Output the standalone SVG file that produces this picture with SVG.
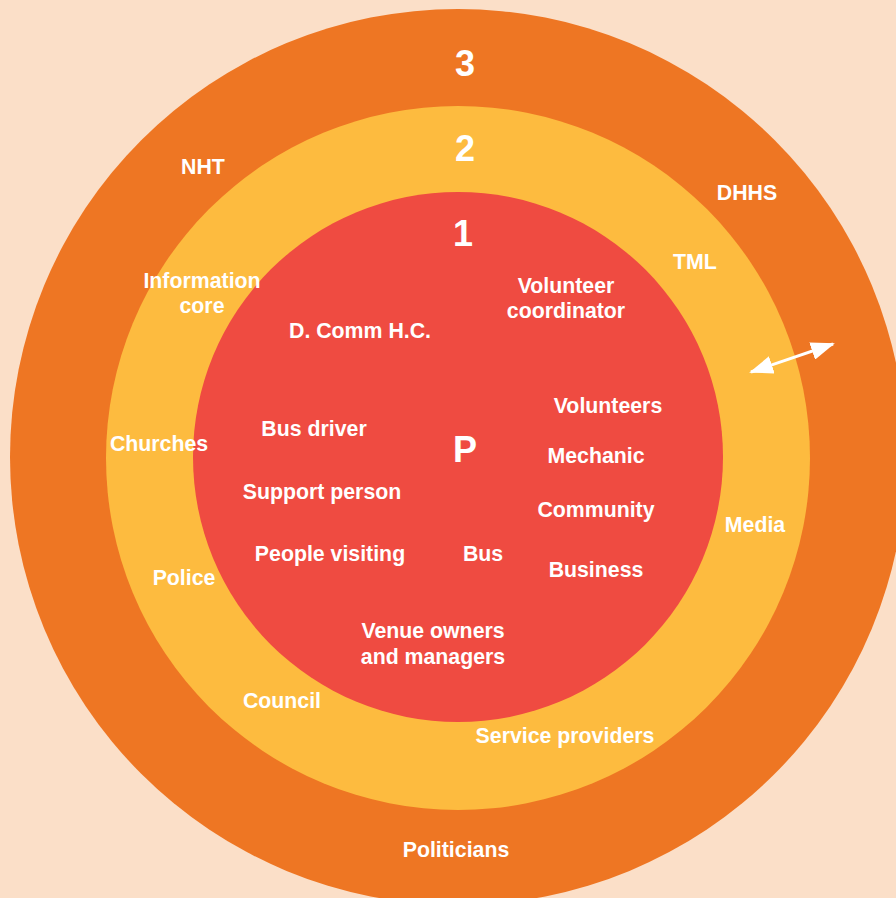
<svg xmlns="http://www.w3.org/2000/svg" width="896" height="898" viewBox="0 0 896 898">
  <defs>
    <marker id="ah" viewBox="0 0 24 18" refX="22" refY="9" markerWidth="24" markerHeight="18" markerUnits="userSpaceOnUse" orient="auto-start-reverse">
      <path d="M0,0 L24,9 L0,18 Z" fill="#ffffff"/>
    </marker>
  </defs>
  <style>
    text { font-family: "Liberation Sans", Arial, Helvetica, sans-serif; font-weight: bold; fill: #ffffff; text-anchor: middle; }
    .lbl { font-size: 21.3px; }
    .num { font-size: 36px; }
  </style>
  <rect x="0" y="0" width="896" height="898" fill="#FBDFC8"/>
  <g id="ring3">
    <circle cx="458" cy="457" r="448" fill="#EE7623"/>
  </g>
  <g id="ring2">
    <circle cx="458" cy="458" r="352" fill="#FDBB3F"/>
  </g>
  <g id="ring1">
    <circle cx="458" cy="457" r="265" fill="#EF4B41"/>
  </g>
  <g id="connectors">
    <line x1="751" y1="372" x2="833" y2="344" stroke="#ffffff" stroke-width="3" marker-start="url(#ah)" marker-end="url(#ah)"/>
  </g>
  <g id="labels-3">
    <text class="num" x="465" y="76">3</text>
    <text class="lbl" x="203" y="174">NHT</text>
    <text class="lbl" x="747" y="200">DHHS</text>
    <text class="lbl" x="456" y="857">Politicians</text>
  </g>
  <g id="labels-2">
    <text class="num" x="465" y="161">2</text>
    <text class="lbl" x="202" y="288">Information</text>
    <text class="lbl" x="202" y="313">core</text>
    <text class="lbl" x="695" y="269">TML</text>
    <text class="lbl" x="159" y="451">Churches</text>
    <text class="lbl" x="755" y="532">Media</text>
    <text class="lbl" x="184" y="585">Police</text>
    <text class="lbl" x="282" y="708">Council</text>
    <text class="lbl" x="565" y="743">Service providers</text>
  </g>
  <g id="labels-1">
    <text class="num" x="463" y="246">1</text>
    <text class="num" x="465" y="462">P</text>
    <text class="lbl" x="360" y="338">D. Comm H.C.</text>
    <text class="lbl" x="566" y="293">Volunteer</text>
    <text class="lbl" x="566" y="318">coordinator</text>
    <text class="lbl" x="314" y="436">Bus driver</text>
    <text class="lbl" x="322" y="499">Support person</text>
    <text class="lbl" x="330" y="561">People visiting</text>
    <text class="lbl" x="483" y="561">Bus</text>
    <text class="lbl" x="608" y="413">Volunteers</text>
    <text class="lbl" x="596" y="463">Mechanic</text>
    <text class="lbl" x="596" y="517">Community</text>
    <text class="lbl" x="596" y="577">Business</text>
    <text class="lbl" x="433" y="638">Venue owners</text>
    <text class="lbl" x="433" y="664">and managers</text>
  </g>
</svg>
